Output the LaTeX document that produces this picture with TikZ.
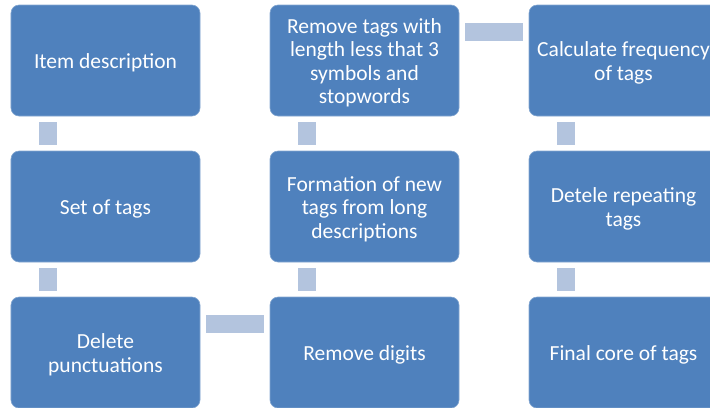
\documentclass[tikz,border=0pt]{standalone}
\usepackage{fontspec}
\setmainfont{Carlito}
\definecolor{boxblue}{RGB}{79,129,189}
\definecolor{connblue}{RGB}{179,196,222}
\newcommand{\boxtext}[1]{\raisebox{-3.5bp}[\height][\depth]{\begin{tabular}{@{}c@{}}#1\end{tabular}}}
\begin{document}
\begin{tikzpicture}[x=1bp,y=-1bp,
 stepbox/.style={rectangle, rounded corners=8bp, fill=boxblue, draw=boxblue!70!white, line width=0.6bp, minimum width=189bp, minimum height=111bp, inner sep=0pt, text=white, font=\fontsize{21.5bp}{23.4bp}\selectfont},
 conn/.style={draw=connblue, line width=18bp}]
\useasboundingbox (0,0) rectangle (710,407);
\clip (0,0) rectangle (710,407);
\node[stepbox] (item) at (105.5,60.5) {\boxtext{Item description}};
\node[stepbox] (set) at (105.5,206.5) {\boxtext{Set of tags}};
\node[stepbox] (punct) at (105.5,352.5) {\boxtext{Delete\\punctuations}};
\node[stepbox] (digits) at (364.5,352.5) {\boxtext{Remove digits}};
\node[stepbox] (form) at (364.5,206.5) {\boxtext{Formation of new\\tags from long\\descriptions}};
\node[stepbox] (remove) at (364.5,60.5) {\boxtext{Remove tags with\\length less that 3\\symbols and\\stopwords}};
\node[stepbox] (calc) at (623.5,60.5) {\boxtext{Calculate frequency\\of tags}};
\node[stepbox] (rep) at (623.5,206.5) {\boxtext{Detele repeating\\tags}};
\node[stepbox] (final) at (623.5,352.5) {\boxtext{Final core of tags}};
\draw[conn] ([xshift=37.5bp,yshift=-6bp]item.south west) -- ([xshift=37.5bp,yshift=6bp]set.north west);
\draw[conn] ([xshift=37.5bp,yshift=-6bp]set.south west) -- ([xshift=37.5bp,yshift=6bp]punct.north west);
\draw[conn] ([xshift=6bp,yshift=-27bp]punct.north east) -- ([xshift=-6bp,yshift=-27bp]digits.north west);
\draw[conn] ([xshift=37.5bp,yshift=-6bp]form.south west) -- ([xshift=37.5bp,yshift=6bp]digits.north west);
\draw[conn] ([xshift=37.5bp,yshift=-6bp]remove.south west) -- ([xshift=37.5bp,yshift=6bp]form.north west);
\draw[conn] ([xshift=6bp,yshift=-27bp]remove.north east) -- ([xshift=-6bp,yshift=-27bp]calc.north west);
\draw[conn] ([xshift=37.5bp,yshift=-6bp]calc.south west) -- ([xshift=37.5bp,yshift=6bp]rep.north west);
\draw[conn] ([xshift=37.5bp,yshift=-6bp]rep.south west) -- ([xshift=37.5bp,yshift=6bp]final.north west);
\end{tikzpicture}
\end{document}
